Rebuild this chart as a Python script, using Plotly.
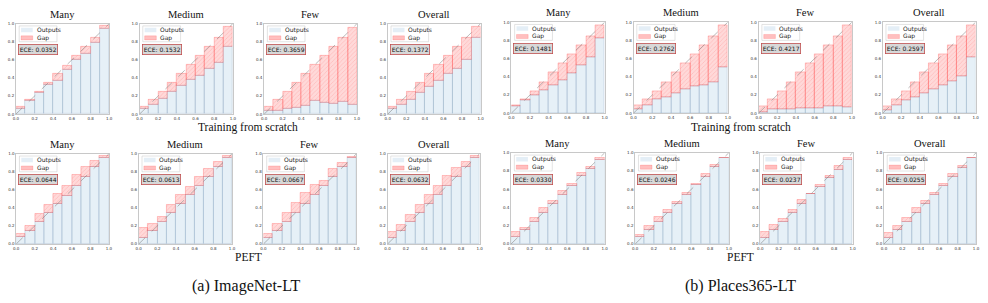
import plotly.graph_objects as go

W, H = 988, 303

# ---------------- data ----------------
BIN_CENTERS = [0.05, 0.15, 0.25, 0.35, 0.45, 0.55, 0.65, 0.75, 0.85, 0.95]
TICK_VALS = [0.0, 0.2, 0.4, 0.6, 0.8, 1.0]
TICK_TEXT = ["0.0", "0.2", "0.4", "0.6", "0.8", "1.0"]
GROUPS = ["Many", "Medium", "Few", "Overall"]

# ImageNet-LT, training from scratch  (outputs = blue height, top = top of the red gap)
IN_SCR_MANY_OUT = [0.065, 0.15, 0.24, 0.325, 0.37, 0.49, 0.60, 0.67, 0.79, 0.94]
IN_SCR_MANY_TOP = [0.08, 0.16, 0.25, 0.35, 0.45, 0.54, 0.65, 0.75, 0.85, 0.975]
IN_SCR_MED_OUT = [0.065, 0.10, 0.17, 0.245, 0.32, 0.385, 0.43, 0.505, 0.57, 0.745]
IN_SCR_MED_TOP = [0.08, 0.155, 0.25, 0.35, 0.45, 0.55, 0.65, 0.75, 0.85, 0.965]
IN_SCR_FEW_OUT = [0.035, 0.04, 0.06, 0.07, 0.095, 0.15, 0.13, 0.115, 0.135, 0.105]
IN_SCR_FEW_TOP = [0.08, 0.155, 0.25, 0.35, 0.45, 0.55, 0.65, 0.75, 0.85, 0.96]
IN_SCR_ALL_OUT = [0.06, 0.10, 0.16, 0.24, 0.30, 0.375, 0.445, 0.505, 0.605, 0.84]
IN_SCR_ALL_TOP = [0.08, 0.155, 0.25, 0.35, 0.45, 0.55, 0.65, 0.75, 0.85, 0.965]
IN_SCR_ECE = ["0.0352", "0.1532", "0.3659", "0.1372"]

# Places365-LT, training from scratch
PL_SCR_MANY_OUT = [0.075, 0.14, 0.195, 0.255, 0.31, 0.36, 0.435, 0.525, 0.61, 0.825]
PL_SCR_MANY_TOP = [0.085, 0.155, 0.245, 0.345, 0.445, 0.545, 0.645, 0.745, 0.85, 0.97]
PL_SCR_MED_OUT = [0.047, 0.09, 0.15, 0.18, 0.215, 0.265, 0.295, 0.31, 0.34, 0.50]
PL_SCR_MED_TOP = [0.083, 0.155, 0.245, 0.345, 0.445, 0.545, 0.645, 0.745, 0.85, 0.965]
PL_SCR_FEW_OUT = [0.015, 0.04, 0.04, 0.04, 0.06, 0.06, 0.05, 0.08, 0.08, 0.07]
PL_SCR_FEW_TOP = [0.08, 0.155, 0.245, 0.345, 0.445, 0.545, 0.645, 0.745, 0.85, 0.965]
PL_SCR_ALL_OUT = [0.03, 0.085, 0.14, 0.175, 0.215, 0.265, 0.305, 0.35, 0.41, 0.62]
PL_SCR_ALL_TOP = [0.08, 0.155, 0.245, 0.345, 0.445, 0.545, 0.645, 0.745, 0.85, 0.965]
PL_SCR_ECE = ["0.1481", "0.2762", "0.4217", "0.2597"]

# ImageNet-LT, PEFT
IN_PEFT_MANY_OUT = [0.08, 0.145, 0.247, 0.345, 0.444, 0.535, 0.647, 0.745, 0.851, 0.96]
IN_PEFT_MANY_TOP = [0.113, 0.207, 0.338, 0.433, 0.553, 0.644, 0.767, 0.858, 0.927, 0.982]
IN_PEFT_MED_OUT = [0.07, 0.145, 0.247, 0.342, 0.444, 0.545, 0.647, 0.745, 0.851, 0.953]
IN_PEFT_MED_TOP = [0.175, 0.225, 0.302, 0.433, 0.542, 0.63, 0.75, 0.836, 0.913, 0.982]
IN_PEFT_FEW_OUT = [0.073, 0.145, 0.247, 0.342, 0.444, 0.545, 0.647, 0.745, 0.851, 0.953]
IN_PEFT_FEW_TOP = [0.116, 0.225, 0.345, 0.455, 0.564, 0.655, 0.698, 0.836, 0.895, 0.971]
IN_PEFT_ALL_OUT = [0.073, 0.145, 0.247, 0.342, 0.444, 0.545, 0.647, 0.745, 0.851, 0.953]
IN_PEFT_ALL_TOP = [0.138, 0.218, 0.327, 0.436, 0.545, 0.644, 0.753, 0.844, 0.916, 0.982]
IN_PEFT_ECE = ["0.0644", "0.0613", "0.0667", "0.0632"]

# Places365-LT, PEFT
PL_PEFT_MANY_OUT = [0.08, 0.15, 0.245, 0.34, 0.44, 0.54, 0.64, 0.745, 0.83, 0.92]
PL_PEFT_MANY_TOP = [0.133, 0.18, 0.29, 0.40, 0.475, 0.58, 0.66, 0.78, 0.85, 0.95]
PL_PEFT_MED_OUT = [0.08, 0.15, 0.245, 0.34, 0.44, 0.54, 0.645, 0.74, 0.845, 0.94]
PL_PEFT_MED_TOP = [0.097, 0.195, 0.295, 0.38, 0.46, 0.56, 0.66, 0.775, 0.865, 0.95]
PL_PEFT_FEW_OUT = [0.072, 0.15, 0.245, 0.34, 0.44, 0.545, 0.63, 0.725, 0.815, 0.925]
PL_PEFT_FEW_TOP = [0.137, 0.21, 0.275, 0.38, 0.48, 0.55, 0.645, 0.745, 0.855, 0.95]
PL_PEFT_ALL_OUT = [0.072, 0.15, 0.24, 0.34, 0.44, 0.54, 0.64, 0.74, 0.835, 0.94]
PL_PEFT_ALL_TOP = [0.125, 0.198, 0.29, 0.395, 0.475, 0.565, 0.655, 0.765, 0.855, 0.95]
PL_PEFT_ECE = ["0.0330", "0.0246", "0.0237", "0.0255"]

SECTION_LABELS = ["Training from scratch", "PEFT"]
CAPTIONS = ["(a) ImageNet-LT", "(b) Places365-LT"]

# ---------------- layout (pixel boxes: x0, x1, ytop, ybottom) ----------------
BOXES = [
    (13, 107, 21, 113), (137.5, 231.5, 21, 113), (263, 356.5, 21, 113), (387.5, 481, 21, 113),
    (512, 606, 19.5, 112), (635, 730, 19.5, 112), (761, 855, 19.5, 112), (886, 979.5, 19.5, 112),
    (13.3, 106.7, 153.3, 245), (136.7, 230.7, 153.3, 245), (262.3, 356, 153.3, 245), (387.3, 480, 153.3, 245),
    (511.7, 606, 152.3, 245), (636.7, 731, 152.3, 245), (762.7, 855.7, 152.3, 245), (887.3, 980, 152.3, 245),
]

PANELS = [
    (IN_SCR_MANY_OUT, IN_SCR_MANY_TOP, IN_SCR_ECE[0]), (IN_SCR_MED_OUT, IN_SCR_MED_TOP, IN_SCR_ECE[1]),
    (IN_SCR_FEW_OUT, IN_SCR_FEW_TOP, IN_SCR_ECE[2]), (IN_SCR_ALL_OUT, IN_SCR_ALL_TOP, IN_SCR_ECE[3]),
    (PL_SCR_MANY_OUT, PL_SCR_MANY_TOP, PL_SCR_ECE[0]), (PL_SCR_MED_OUT, PL_SCR_MED_TOP, PL_SCR_ECE[1]),
    (PL_SCR_FEW_OUT, PL_SCR_FEW_TOP, PL_SCR_ECE[2]), (PL_SCR_ALL_OUT, PL_SCR_ALL_TOP, PL_SCR_ECE[3]),
    (IN_PEFT_MANY_OUT, IN_PEFT_MANY_TOP, IN_PEFT_ECE[0]), (IN_PEFT_MED_OUT, IN_PEFT_MED_TOP, IN_PEFT_ECE[1]),
    (IN_PEFT_FEW_OUT, IN_PEFT_FEW_TOP, IN_PEFT_ECE[2]), (IN_PEFT_ALL_OUT, IN_PEFT_ALL_TOP, IN_PEFT_ECE[3]),
    (PL_PEFT_MANY_OUT, PL_PEFT_MANY_TOP, PL_PEFT_ECE[0]), (PL_PEFT_MED_OUT, PL_PEFT_MED_TOP, PL_PEFT_ECE[1]),
    (PL_PEFT_FEW_OUT, PL_PEFT_FEW_TOP, PL_PEFT_ECE[2]), (PL_PEFT_ALL_OUT, PL_PEFT_ALL_TOP, PL_PEFT_ECE[3]),
]

SERIF = "Liberation Serif, Times New Roman, serif"
SANS = "DejaVu Sans, sans-serif"
BLUE_FILL = "rgba(31,119,180,0.11)"
BLUE_EDGE = "rgba(120,150,180,0.45)"
RED_FILL = "rgba(255,0,0,0.15)"
RED_EDGE = "rgba(255,0,0,0.35)"

fig = go.Figure()
layout = dict(
    width=W, height=H, margin=dict(l=0, r=0, t=0, b=0),
    paper_bgcolor="white", plot_bgcolor="white",
    showlegend=False, barmode="overlay", bargap=0,
)
annotations = []
shapes = []

for i, ((out, top, ece), (x0, x1, yt, yb)) in enumerate(zip(PANELS, BOXES)):
    n = i + 1
    xa = "x" if n == 1 else f"x{n}"
    ya = "y" if n == 1 else f"y{n}"
    xkey = "xaxis" if n == 1 else f"xaxis{n}"
    ykey = "yaxis" if n == 1 else f"yaxis{n}"
    gap = [t - o for o, t in zip(out, top)]

    fig.add_trace(go.Bar(
        x=BIN_CENTERS, y=out, width=0.1, xaxis=xa, yaxis=ya,
        marker=dict(color=BLUE_FILL, line=dict(color=BLUE_EDGE, width=0.6)),
        name="Outputs", hoverinfo="skip"))
    fig.add_trace(go.Bar(
        x=BIN_CENTERS, y=gap, base=out, width=0.1, xaxis=xa, yaxis=ya,
        marker=dict(color=RED_FILL, line=dict(color=RED_EDGE, width=0.6),
                    pattern=dict(shape="/", fgcolor="rgba(255,80,80,0.45)", size=3, solidity=0.25)),
        name="Gap", hoverinfo="skip"))

    common = dict(range=[0, 1], tickvals=TICK_VALS, ticktext=TICK_TEXT, showgrid=False, zeroline=False,
                  showline=True, mirror=True, linecolor="#c8c8c8", linewidth=0.8,
                  ticks="", tickfont=dict(family=SANS, size=4, color="#333"), fixedrange=True)
    layout[xkey] = dict(domain=[x0 / W, x1 / W], anchor=ya, **common)
    layout[ykey] = dict(domain=[1 - yb / H, 1 - yt / H], anchor=xa, **common)

    shapes.append(dict(type="line", xref=xa, yref=ya, x0=0, y0=0, x1=1, y1=1,
                       line=dict(color="rgba(110,110,110,0.8)", width=0.6, dash="dash")))
    shapes.append(dict(type="rect", xref=xa, yref=ya, x0=0.035, x1=0.44, y0=0.80, y1=0.975,
                       fillcolor="rgba(255,255,255,0.85)", line=dict(color="#d0d0d0", width=0.6)))
    shapes.append(dict(type="rect", xref=xa, yref=ya, x0=0.055, x1=0.18, y0=0.905, y1=0.955,
                       fillcolor="rgba(31,119,180,0.12)", line=dict(width=0)))
    shapes.append(dict(type="rect", xref=xa, yref=ya, x0=0.055, x1=0.18, y0=0.82, y1=0.865,
                       fillcolor="rgba(255,0,0,0.25)", line=dict(color=RED_EDGE, width=0.4)))
    annotations.append(dict(xref=xa, yref=ya, x=0.20, y=0.93, text="Outputs", showarrow=False,
                            xanchor="left", yanchor="middle", font=dict(family=SANS, size=6, color="#222")))
    annotations.append(dict(xref=xa, yref=ya, x=0.20, y=0.843, text="Gap", showarrow=False,
                            xanchor="left", yanchor="middle", font=dict(family=SANS, size=6, color="#222")))
    annotations.append(dict(xref=xa, yref=ya, x=0.022, y=0.71, text=f"ECE: {ece}", showarrow=False,
                            xanchor="left", yanchor="middle", bgcolor="#d8d8d8",
                            bordercolor="#c05050", borderwidth=0.8, borderpad=1,
                            font=dict(family=SANS, size=6, color="#111")))
    annotations.append(dict(xref="paper", yref="paper", x=(x0 + x1) / 2 / W, y=1 - (yt - 9.5) / H,
                            text=GROUPS[i % 4], showarrow=False, xanchor="center", yanchor="middle",
                            font=dict(family=SERIF, size=10.5, color="#111")))

for cx in (247, 743):
    annotations.append(dict(xref="paper", yref="paper", x=cx / W, y=1 - 127 / H, text=SECTION_LABELS[0],
                            showarrow=False, xanchor="center", yanchor="middle",
                            font=dict(family=SERIF, size=11.5, color="#111")))
    annotations.append(dict(xref="paper", yref="paper", x=cx / W, y=1 - 258.5 / H, text=SECTION_LABELS[1],
                            showarrow=False, xanchor="center", yanchor="middle",
                            font=dict(family=SERIF, size=11.5, color="#111")))
for cx, cap in zip((245, 743), CAPTIONS):
    annotations.append(dict(xref="paper", yref="paper", x=cx / W, y=1 - 288 / H, text=cap,
                            showarrow=False, xanchor="center", yanchor="middle",
                            font=dict(family=SERIF, size=16, color="#111")))

layout["annotations"] = annotations
layout["shapes"] = shapes
fig.update_layout(**layout)
fig.write_html("out.html")
